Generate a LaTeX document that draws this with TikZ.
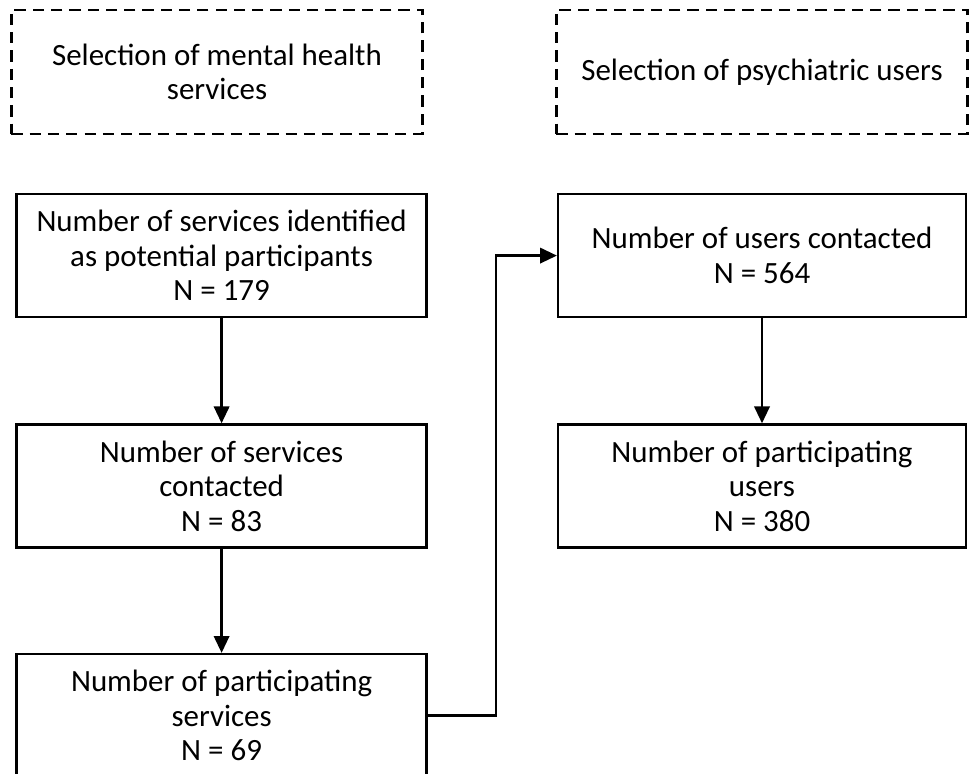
\documentclass[tikz,border=0pt]{standalone}
\usepackage{fontspec}
\setmainfont{Carlito}
\usetikzlibrary{arrows.meta}

\begin{document}
\begin{tikzpicture}[
    font=\fontsize{22}{24.5}\selectfont,
    box/.style={draw,line width=1.6pt,align=center,minimum width=10.25cm,minimum height=3.08cm,inner sep=0pt},
    stage/.style={box,dashed,dash pattern=on 8pt off 5pt,minimum width=10.28cm,minimum height=3.1cm},
    flow/.style={line width=1.6pt,-{Triangle[length=12pt,width=11pt]}}]
  \useasboundingbox (0,0) rectangle (24.225,19.35);
  \path[clip] (0,0) rectangle (24.225,19.35);

  \node[stage] (sel services) at (5.425,17.55) {Selection of mental health\\services};
  \node[stage] (sel users) at (19.05,17.55) {Selection of psychiatric users};

  \node[box] (identified) at (5.54,12.96) {Number of services identified\\as potential participants\\N = 179};
  \node[box] (contacted) at (5.54,7.2) {Number of services\\contacted\\N = 83};
  \node[box] (participating) at (5.54,1.46) {Number of participating\\services\\N = 69};

  \node[box,minimum width=10.2cm] (users contacted) at (19.05,12.96) {Number of users contacted\\N = 564};
  \node[box,minimum width=10.2cm] (users participating) at (19.05,7.2) {Number of participating\\users\\N = 380};

  \coordinate (bend low) at (12.4,1.46);
  \coordinate (bend high) at (12.4,12.96);

  \draw[flow] (identified) -- (contacted);
  \draw[flow] (contacted) -- (participating);
  \draw[flow] (participating.east) -- (bend low) -- (bend high) -- (users contacted.west);
  \draw[flow] (users contacted) -- (users participating);
\end{tikzpicture}
\end{document}
